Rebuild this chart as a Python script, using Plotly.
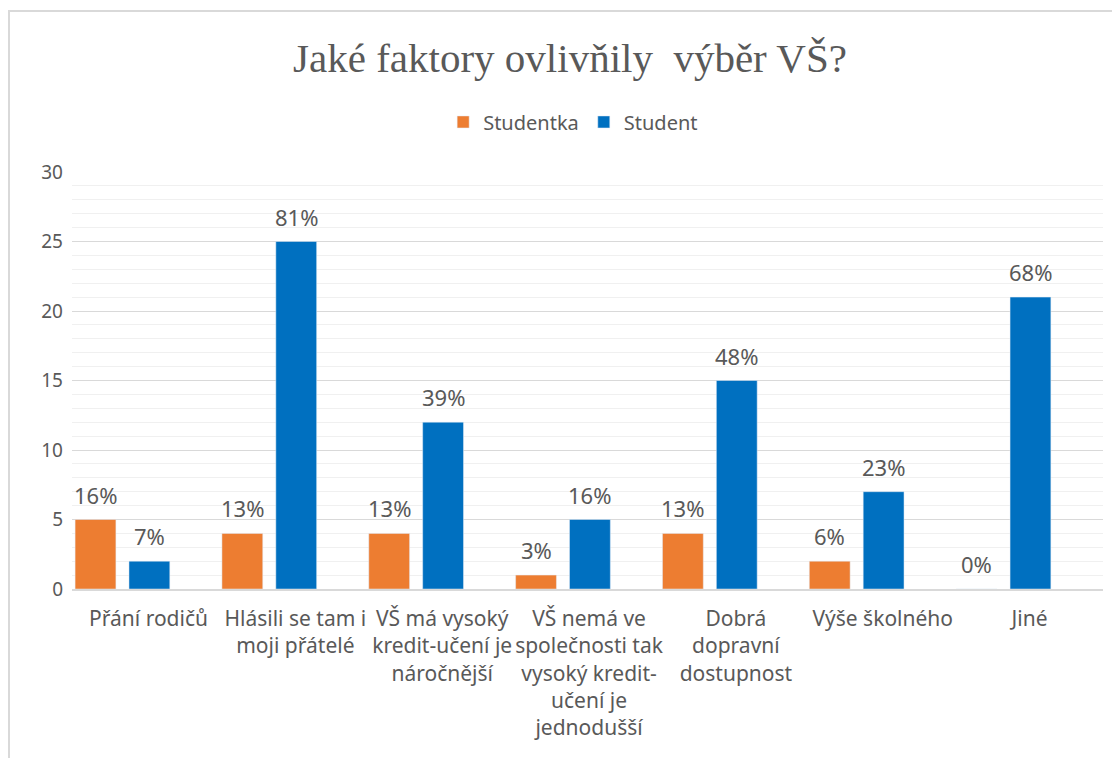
import plotly.graph_objects as go

categories = [
    "Přání rodičů",
    "Hlásili se tam i<br>moji přátelé",
    "VŠ má vysoký<br>kredit-učení je<br>náročnější",
    "VŠ nemá ve<br>společnosti tak<br>vysoký kredit-<br>učení je<br>jednodušší",
    "Dobrá<br>dopravní<br>dostupnost",
    "Výše školného",
    "Jiné",
]
studentka = [5, 4, 4, 1, 4, 2, 0]
student = [2, 25, 12, 5, 15, 7, 21]
studentka_labels = ["16%", "13%", "13%", "3%", "13%", "6%", "0%"]
student_labels = ["7%", "81%", "39%", "16%", "48%", "23%", "68%"]
y_ticks = [0, 5, 10, 15, 20, 25, 30]

GRAY = "#595959"
FONT = "Noto Sans"
BAR_W = 0.278
OFF_F = -0.5
OFF_M = -0.133

fig = go.Figure()
fig.add_trace(go.Bar(
    name="Studentka", x=categories, y=studentka,
    marker=dict(color="#ED7D31"), width=BAR_W, offset=OFF_F,
))
fig.add_trace(go.Bar(
    name="Student", x=categories, y=student,
    marker=dict(color="#0070C0"), width=BAR_W, offset=OFF_M,
))

annotations = []
for series, labels, off in ((studentka, studentka_labels, OFF_F), (student, student_labels, OFF_M)):
    for i, (v, lab) in enumerate(zip(series, labels)):
        annotations.append(dict(
            x=i + off + BAR_W / 2, y=v, xref="x", yref="y", text=lab,
            showarrow=False, yanchor="middle", yshift=25,
            font=dict(family=FONT, size=22, color=GRAY),
        ))

fig.update_layout(
    width=1120, height=758,
    margin=dict(l=64, r=25, t=164, b=177),
    paper_bgcolor="white", plot_bgcolor="white",
    barmode="group",
    title=dict(text="Jaké faktory ovlivňily  výběr VŠ?", x=562 / 1120, xref="container",
               xanchor="center", y=1 - 50 / 758, yanchor="middle",
               font=dict(family="Liberation Serif", size=41, color=GRAY)),
    legend=dict(orientation="h", x=0.36, xanchor="left", y=1.12,
                yanchor="middle", font=dict(family=FONT, size=20, color=GRAY),
                itemwidth=30, traceorder="normal"),
    showlegend=True,
    font=dict(family=FONT, color=GRAY),
    annotations=annotations,
    shapes=[dict(type="rect", xref="paper", yref="paper",
                 x0=(1 - 64) / 1031, x1=1.2, y0=-0.6, y1=(581 - 3) / 417,
                 line=dict(color="#d9d9d9", width=2), layer="below")],
)
fig.update_yaxes(
    range=[0, 30], tickvals=y_ticks, showgrid=True, gridcolor="#d9d9d9", gridwidth=1,
    zeroline=False, showline=False, ticks="",
    tickfont=dict(family=FONT, size=19, color=GRAY), ticklabelstandoff=8,
    minor=dict(dtick=1, showgrid=True, gridcolor="#f0f0f0", gridwidth=1),
)
fig.update_xaxes(
    showline=True, linecolor="#d9d9d9", linewidth=1.5, showgrid=False, ticks="",
    tickfont=dict(family=FONT, size=21, color=GRAY), tickangle=0,
    ticklabelstandoff=10,
)
fig.write_html("out.html")
